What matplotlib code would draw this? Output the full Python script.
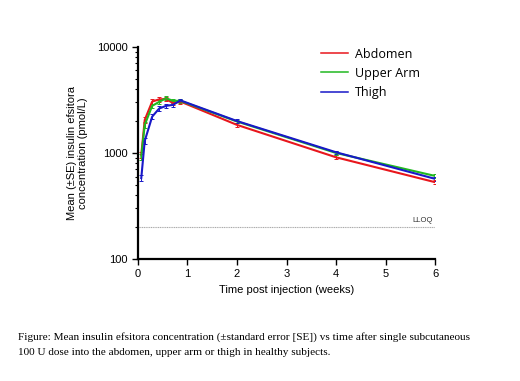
import numpy as np
import matplotlib
matplotlib.use("Agg")
import matplotlib.pyplot as plt
from matplotlib.lines import Line2D

# time points in weeks
weeks = [0.07, 0.14, 0.29, 0.43, 0.57, 0.71, 0.86, 2, 4, 6]
abdomen = [960, 2050, 3050, 3200, 3230, 2950, 3050, 1840, 910, 530]
upper_arm = [920, 1840, 2780, 3030, 3280, 3100, 3100, 1980, 1000, 607]
thigh = [580, 1300, 2200, 2620, 2780, 2840, 3130, 2000, 1015, 570]
abdomen_se = [60, 120, 150, 150, 150, 140, 130, 80, 40, 25]
upper_arm_se = [60, 110, 140, 140, 150, 140, 130, 80, 40, 25]
thigh_se = [40, 90, 120, 130, 130, 130, 130, 80, 40, 25]
lloq = 200

plt.rcParams['font.family'] = ['Liberation Sans', 'DejaVu Sans']

fig = plt.figure(figsize=(5.2, 3.81), dpi=100)
ax = fig.add_axes([0.265, 0.32, 0.572, 0.557])

series = [("Abdomen", abdomen, abdomen_se, "#e8161c"),
          ("Upper Arm", upper_arm, upper_arm_se, "#20b820"),
          ("Thigh", thigh, thigh_se, "#1818c8")]
handles = []
for name, vals, se, col in series:
    ax.errorbar(weeks, vals, yerr=se, color=col, lw=1.5, elinewidth=0.7,
                capsize=1.2, capthick=0.7)
    handles.append(Line2D([], [], color=col, lw=1.1, label=name))

ax.axhline(lloq, xmin=0, xmax=1, color="#aaaaaa", lw=0.8, ls=(0, (1, 0.6)))
ax.text(5.95, lloq * 1.06, "LLOQ", fontsize=5.5, ha="right", va="bottom",
        color="#333333")

ax.set_yscale("log")
ax.set_ylim(100, 10000)
ax.set_xlim(0, 6)
ax.set_xticks(range(7))
ax.set_yticks([100, 1000, 10000])
ax.set_yticklabels(["100", "1000", "10000"])
ax.tick_params(axis="both", which="major", direction="out", length=4,
               width=1, labelsize=8)
ax.tick_params(axis="y", which="minor", direction="out", length=2.5, width=0.8)
for s in ["top", "right"]:
    ax.spines[s].set_visible(False)
for s in ["left", "bottom"]:
    ax.spines[s].set_linewidth(1.6)

ax.set_xlabel("Time post injection (weeks)", fontsize=8, labelpad=4)
ax.set_ylabel("Mean (\u00b1SE) insulin efsitora\nconcentration (pmol/L)",
              fontsize=8, labelpad=6)

leg = ax.legend(handles=handles, loc="upper left", bbox_to_anchor=(0.6, 1.02),
                frameon=False, prop={"family": "Open Sans", "size": 9},
                handlelength=2.1, labelspacing=0.5, borderaxespad=0,
                handletextpad=0.6)

caption = ("Figure: Mean insulin efsitora concentration (\u00b1standard error [SE]) vs time after single subcutaneous\n"
           "100 U dose into the abdomen, upper arm or thigh in healthy subjects.")
fig.text(0.035, 0.128, caption, fontsize=8.15, family="Liberation Serif",
         va="top", ha="left", linespacing=1.9)

fig.savefig("out.png", dpi=100)
